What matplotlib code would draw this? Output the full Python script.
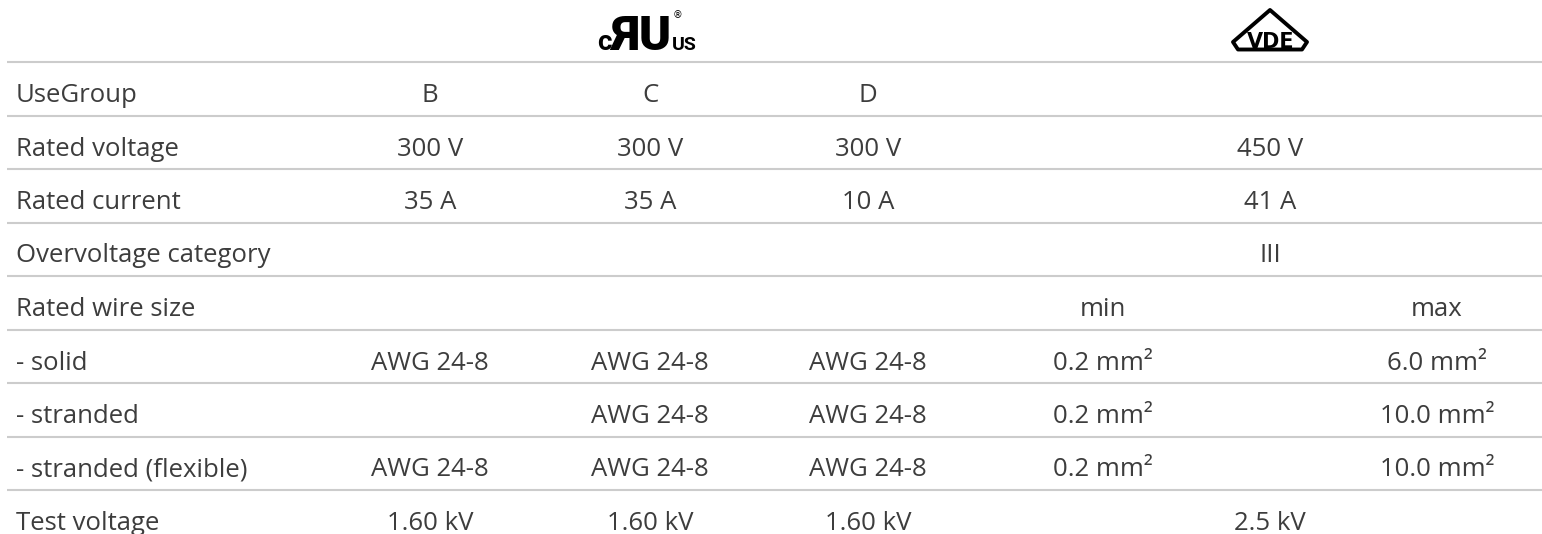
import matplotlib
matplotlib.use('Agg')
import matplotlib.pyplot as plt
from matplotlib.patches import Polygon

# Table content
row_labels = ["UseGroup", "Rated voltage", "Rated current", "Overvoltage category",
              "Rated wire size", "- solid", "- stranded", "- stranded (flexible)",
              "Test voltage"]
ul_b = ["B", "300 V", "35 A", "", "", "AWG 24-8", "", "AWG 24-8", "1.60 kV"]
ul_c = ["C", "300 V", "35 A", "", "", "AWG 24-8", "AWG 24-8", "AWG 24-8", "1.60 kV"]
ul_d = ["D", "300 V", "10 A", "", "", "AWG 24-8", "AWG 24-8", "AWG 24-8", "1.60 kV"]
vde_min = ["", "", "", "", "min", "0.2 mm²", "0.2 mm²", "0.2 mm²", ""]
vde_max = ["", "", "", "", "max", "6.0 mm²", "10.0 mm²", "10.0 mm²", ""]
vde_all = ["", "450 V", "41 A", "III", "", "", "", "", "2.5 kV"]

# layout (pixels)
W, H = 1542, 534
row_h = 53.5
first_line = 62
label_x = 16
col_x = {"b": 430, "c": 650, "d": 868, "min": 1103, "max": 1437, "vde": 1270}
text_col = '#3d3d3d'
line_col = '#cccccc'

plt.rcParams['font.family'] = ['Open Sans', 'DejaVu Sans']

fig = plt.figure(figsize=(W / 100, H / 100), dpi=100)
ax = fig.add_axes([0, 0, 1, 1])
ax.set_xlim(0, W)
ax.set_ylim(H, 0)
ax.axis('off')

# horizontal rules
for i in range(len(row_labels)):
    y = first_line + i * row_h
    ax.plot([7, W], [y, y], color=line_col, lw=1.5, solid_capstyle='butt')

fs = 18.5
for i, lab in enumerate(row_labels):
    yb = first_line + i * row_h + 40
    ax.text(label_x, yb, lab, fontsize=fs, color=text_col, va='baseline', ha='left')
    cells = [(ul_b[i], "b"), (ul_c[i], "c"), (ul_d[i], "d"),
             (vde_min[i], "min"), (vde_max[i], "max"), (vde_all[i], "vde")]
    for txt, key in cells:
        if txt:
            ax.text(col_x[key], yb, txt, fontsize=fs, color=text_col,
                    va='baseline', ha='center')

# cULus mark
logo_font = ['Roboto', 'DejaVu Sans']
ax.text(612, 50, "c", fontsize=20, fontweight='bold', family=logo_font,
        color='black', ha='right', va='baseline')
ax.text(641, 50, "ЯU", fontsize=35, fontweight='heavy', family=logo_font,
        color='black', ha='center', va='baseline')
ax.text(672, 50, "US", fontsize=14, fontweight='bold', family=logo_font,
        color='black', ha='left', va='baseline')
ax.text(673, 15, "®", fontsize=7, color='black', ha='left', va='center',
        family=['DejaVu Sans'])

# VDE mark
tri = Polygon([(1270, 10), (1233, 42), (1238, 49.5), (1302, 49.5), (1307, 42)],
              closed=True, facecolor='white', edgecolor='black', lw=2.8,
              joinstyle='round')
ax.add_patch(tri)
ax.text(1271, 47.5, "VDE", fontsize=15, fontweight='heavy', family=['DejaVu Sans'],
        color='black', ha='center', va='baseline')

fig.savefig('out.png', dpi=100, facecolor='white')
